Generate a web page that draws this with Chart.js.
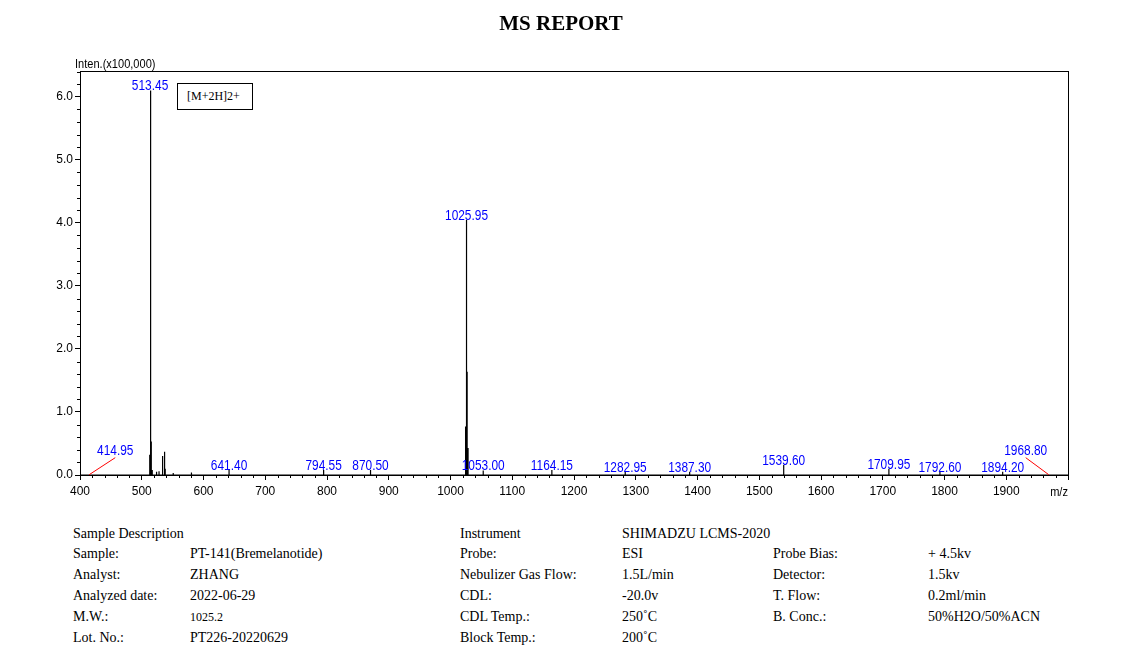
<!DOCTYPE html>
<html>
<head>
<meta charset="utf-8">
<script src="https://cdn.jsdelivr.net/npm/chart.js@4.4.1/dist/chart.umd.min.js"></script>
<style>
  body { margin: 0; background: #fff; width: 1122px; height: 662px; position: relative; overflow: hidden; }
  #ms { position: absolute; left: 0; top: 0; }
  #title { position: absolute; top: 11px; left: 0; width: 1122px; text-align: center; font: bold 21px "Liberation Serif", "Times New Roman", serif; color: #000; }
  .narrow { font-family: "Liberation Sans", Arial, sans-serif; transform: scaleX(0.85); white-space: nowrap; }
  #yunit { position: absolute; left: 75px; top: 56px; font-size: 13px; transform-origin: left top; }
  #mzunit { position: absolute; right: 54px; top: 484px; font-size: 13px; transform-origin: right top; }
  #ionbox { position: absolute; left: 177px; top: 83px; width: 76px; height: 27px; border: 1px solid #000; box-sizing: border-box;
            font: 12px "Liberation Serif", serif; line-height: 25px; padding-left: 9px; background: #fff; }
  .row { position: absolute; left: 0; height: 18px; font: 14px "Liberation Serif", "Times New Roman", serif; line-height: 18px; color: #000; }
  .row span { position: absolute; white-space: nowrap; }
  .c1 { left: 73px; } .c2 { left: 190px; } .c3 { left: 460px; } .c4 { left: 622px; } .c5 { left: 773px; } .c6 { left: 928px; }
  .small { font-size: 12px; }
</style>
</head>
<body>
<canvas id="ms" width="1122" height="500"></canvas>
<div id="title">MS REPORT</div>
<div id="yunit" class="narrow">Inten.(x100,000)</div>
<div id="mzunit" class="narrow">m/z</div>
<div id="ionbox">[M+2H]2+</div>

<div class="row" style="top:525px"><span class="c1">Sample Description</span><span class="c3">Instrument</span><span class="c4">SHIMADZU LCMS-2020</span></div>
<div class="row" style="top:545px"><span class="c1">Sample:</span><span class="c2">PT-141(Bremelanotide)</span><span class="c3">Probe:</span><span class="c4">ESI</span><span class="c5">Probe Bias:</span><span class="c6">+ 4.5kv</span></div>
<div class="row" style="top:566px"><span class="c1">Analyst:</span><span class="c2">ZHANG</span><span class="c3">Nebulizer Gas Flow:</span><span class="c4">1.5L/min</span><span class="c5">Detector:</span><span class="c6">1.5kv</span></div>
<div class="row" style="top:587px"><span class="c1">Analyzed date:</span><span class="c2">2022-06-29</span><span class="c3">CDL:</span><span class="c4">-20.0v</span><span class="c5">T. Flow:</span><span class="c6">0.2ml/min</span></div>
<div class="row" style="top:608px"><span class="c1">M.W.:</span><span class="c2 small">1025.2</span><span class="c3">CDL Temp.:</span><span class="c4">250˚C</span><span class="c5">B. Conc.:</span><span class="c6">50%H2O/50%ACN</span></div>
<div class="row" style="top:629px"><span class="c1">Lot. No.:</span><span class="c2">PT226-20220629</span><span class="c3">Block Temp.:</span><span class="c4">200˚C</span></div>

<script>
// m/z of each stick and its intensity (x100,000)
const peakMz  = [414.95, 512.95, 513.45, 514.95, 515.45, 517.0, 524.0, 528.0, 533.2, 534.2, 537.0, 538.0, 551.0, 580.5,
                 641.40, 794.55, 870.50, 1024.45, 1025.95, 1026.95, 1028.45, 1053.00, 1164.15, 1282.95, 1387.30,
                 1539.60, 1709.95, 1792.60, 1894.20, 1968.80];
const peakInt = [0.005, 0.32, 6.10, 1.14, 0.53, 0.08, 0.05, 0.06, 0.30, 0.08, 0.37, 0.10, 0.03, 0.04,
                 0.08, 0.08, 0.08, 0.77, 4.05, 1.64, 0.43, 0.07, 0.08, 0.05, 0.05,
                 0.16, 0.10, 0.05, 0.05, 0.005];
// peaks that carry a m/z label
const labelMz = [414.95, 513.45, 641.40, 794.55, 870.50, 1025.95, 1053.00, 1164.15, 1282.95, 1387.30,
                 1539.60, 1709.95, 1792.60, 1894.20, 1968.80];

const mzMin = 400, mzMax = 2000, mzStep = 100;
const intMax = 6.41, intStep = 1;

// each peak becomes a stick: baseline -> top -> baseline
const sticks = [{ x: mzMin, y: 0 }];
peakMz.forEach((mz, i) => {
    sticks.push({ x: mz, y: 0 }, { x: mz, y: peakInt[i] }, { x: mz, y: 0 });
});
sticks.push({ x: mzMax, y: 0 });

const sans = '"Liberation Sans", Arial, sans-serif';
const tickFont = { family: sans, size: 12 };

// frame, minor ticks and peak labels
const spectrumDecor = {
    id: 'spectrumDecor',
    afterDraw(chart) {
        const { ctx, chartArea: a, scales: { x, y } } = chart;
        ctx.save();
        ctx.strokeStyle = '#000';
        ctx.lineWidth = 1;
        ctx.strokeRect(Math.round(a.left) + 0.5, Math.round(a.top) + 0.5,
                       Math.round(a.right - a.left), Math.round(a.bottom - a.top));

        ctx.beginPath();
        for (let v = mzMin; v <= mzMax; v += 20) {
            if (v % mzStep === 0) continue;
            const px = Math.round(x.getPixelForValue(v)) + 0.5;
            ctx.moveTo(px, a.bottom);
            ctx.lineTo(px, a.bottom + 3);
        }
        for (let i = 1; i * 0.2 <= intMax; i++) {
            if (i % 5 === 0) continue;
            const py = Math.round(y.getPixelForValue(i * 0.2)) + 0.5;
            ctx.moveTo(a.left - 3, py);
            ctx.lineTo(a.left, py);
        }
        ctx.stroke();

        // condensed blue labels (no narrow font installed, so squeeze horizontally)
        const squeeze = 0.85;
        ctx.font = '14px ' + sans;
        ctx.textAlign = 'center';
        ctx.textBaseline = 'bottom';
        labelMz.forEach(mz => {
            const h = peakInt[peakMz.indexOf(mz)];
            const text = mz.toFixed(2);
            const w = ctx.measureText(text).width * squeeze;
            const px = x.getPixelForValue(mz);
            const py = y.getPixelForValue(h);
            let lx = px, ly = py + 3;
            // labels that would leave the frame get pushed inside with a red leader
            if (px - w / 2 < a.left) { lx = px + 26; ly = py - 17; }
            else if (px + w / 2 > a.right) { lx = px - 23; ly = py - 17; }
            if (lx !== px) {
                ctx.strokeStyle = '#ff0000';
                ctx.beginPath();
                ctx.moveTo(px, py);
                ctx.lineTo(lx, ly);
                ctx.stroke();
            }
            ctx.save();
            ctx.translate(lx, ly);
            ctx.scale(squeeze, 1);
            ctx.fillStyle = '#0000ff';
            ctx.fillText(text, 0, 0);
            ctx.restore();
        });
        ctx.restore();
    }
};

new Chart(document.getElementById('ms'), {
    type: 'line',
    data: {
        datasets: [{
            data: sticks,
            borderColor: '#000',
            borderWidth: 1.2,
            pointRadius: 0,
            tension: 0,
            fill: false
        }]
    },
    options: {
        responsive: false,
        animation: false,
        layout: { padding: { top: 71, right: 54, left: 0, bottom: 0 } },
        plugins: { legend: { display: false }, tooltip: { enabled: false } },
        scales: {
            x: {
                type: 'linear',
                min: mzMin,
                max: mzMax,
                ticks: {
                    stepSize: mzStep,
                    autoSkip: false,
                    maxRotation: 0,
                    padding: 4,
                    color: '#000',
                    font: tickFont,
                    callback: v => v === mzMax ? '' : v
                },
                grid: { drawOnChartArea: false, color: '#000', tickColor: '#000', tickLength: 5 },
                border: { color: '#000' },
                afterFit: s => { s.height = 25; }
            },
            y: {
                min: 0,
                max: intMax,
                ticks: {
                    stepSize: intStep,
                    includeBounds: false,
                    padding: 2,
                    color: '#000',
                    font: tickFont,
                    callback: v => v.toFixed(1)
                },
                grid: { drawOnChartArea: false, color: '#000', tickColor: '#000', tickLength: 5 },
                border: { color: '#000' },
                afterFit: s => { s.width = 80; }
            }
        }
    },
    plugins: [spectrumDecor]
});
</script>
</body>
</html>
